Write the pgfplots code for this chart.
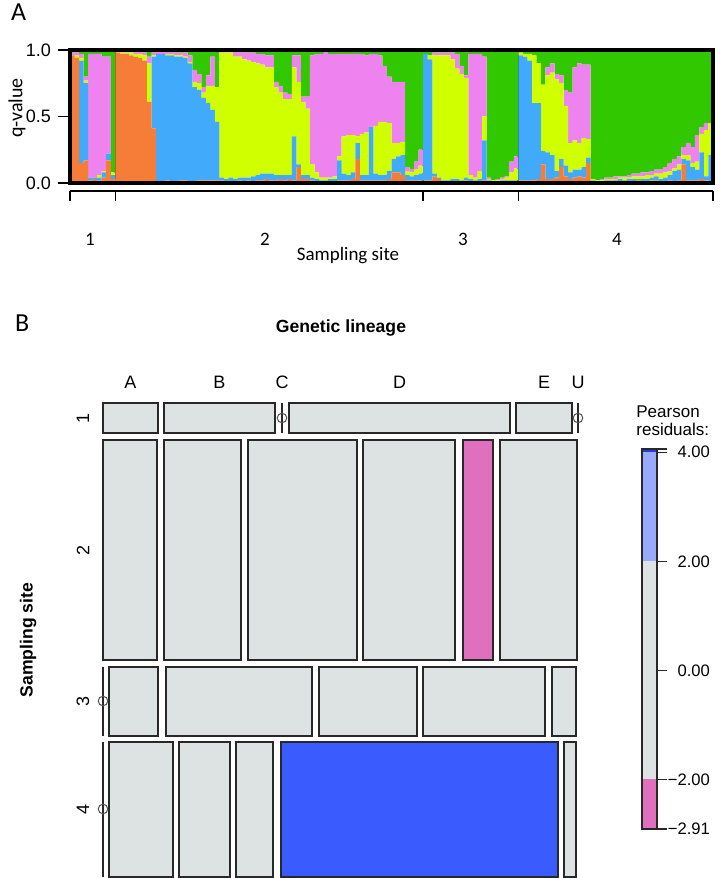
\documentclass[border=0pt]{standalone}
\usepackage{pgfplots}
\pgfplotsset{compat=1.18}
\usepackage{pgfplotstable}
\usepackage{fontspec}
\setmainfont{Liberation Sans}
\newfontfamily\calib{Carlito}

\definecolor{qO}{RGB}{245,125,55}
\definecolor{qB}{RGB}{66,170,250}
\definecolor{qY}{RGB}{208,255,0}
\definecolor{qP}{RGB}{238,130,238}
\definecolor{qG}{RGB}{50,200,0}
\definecolor{tgrey}{RGB}{221,227,227}
\definecolor{tedge}{RGB}{40,40,40}
\definecolor{rneg}{RGB}{224,112,190}
\definecolor{rpos}{RGB}{58,92,255}
\definecolor{rposl}{RGB}{152,170,250}
\definecolor{rposd}{RGB}{40,60,220}

% q-values per individual, clusters bottom to top: O B Y P G
\pgfplotstableread{
x O B Y P G
0.5 0.96 0.00 0.00 0.02 0.02
1.5 0.94 0.00 0.02 0.03 0.01
2.5 0.15 0.77 0.02 0.03 0.03
3.5 0.17 0.58 0.02 0.03 0.20
4.5 0.02 0.02 0.00 0.93 0.03
5.5 0.03 0.01 0.00 0.93 0.03
6.5 0.02 0.02 0.02 0.91 0.03
7.5 0.04 0.04 0.01 0.86 0.05
8.5 0.17 0.05 0.00 0.73 0.05
9.5 0.03 0.03 0.02 0.00 0.92
10.5 0.98 0.00 0.00 0.01 0.01
11.5 0.97 0.00 0.01 0.01 0.01
12.5 0.97 0.00 0.01 0.01 0.01
13.5 0.96 0.00 0.02 0.01 0.01
14.5 0.95 0.00 0.02 0.02 0.01
15.5 0.94 0.00 0.03 0.02 0.01
16.5 0.92 0.00 0.04 0.02 0.02
17.5 0.61 0.00 0.29 0.05 0.05
18.5 0.41 0.54 0.01 0.02 0.02
19.5 0.01 0.96 0.00 0.02 0.01
20.5 0.01 0.96 0.00 0.02 0.01
21.5 0.02 0.94 0.01 0.02 0.01
22.5 0.01 0.95 0.01 0.02 0.01
23.5 0.01 0.94 0.01 0.02 0.02
24.5 0.02 0.93 0.01 0.02 0.02
25.5 0.02 0.92 0.01 0.03 0.02
26.5 0.01 0.89 0.01 0.05 0.04
27.5 0.01 0.71 0.04 0.09 0.15
28.5 0.02 0.68 0.05 0.07 0.18
29.5 0.02 0.62 0.04 0.04 0.28
30.5 0.02 0.58 0.13 0.08 0.19
31.5 0.02 0.53 0.18 0.22 0.05
32.5 0.02 0.44 0.26 0.00 0.28
33.5 0.02 0.02 0.94 0.01 0.01
34.5 0.01 0.02 0.95 0.01 0.01
35.5 0.01 0.03 0.94 0.01 0.01
36.5 0.01 0.02 0.92 0.04 0.01
37.5 0.02 0.02 0.91 0.04 0.01
38.5 0.01 0.03 0.89 0.05 0.02
39.5 0.02 0.02 0.88 0.06 0.02
40.5 0.01 0.04 0.86 0.07 0.02
41.5 0.02 0.04 0.84 0.07 0.03
42.5 0.02 0.05 0.82 0.08 0.03
43.5 0.03 0.04 0.80 0.09 0.04
44.5 0.02 0.05 0.80 0.09 0.04
45.5 0.02 0.04 0.66 0.04 0.24
46.5 0.03 0.03 0.62 0.05 0.27
47.5 0.02 0.04 0.57 0.05 0.32
48.5 0.03 0.03 0.57 0.04 0.33
49.5 0.02 0.33 0.52 0.09 0.04
50.5 0.12 0.02 0.62 0.20 0.04
51.5 0.03 0.03 0.55 0.04 0.35
52.5 0.03 0.03 0.50 0.09 0.35
53.5 0.02 0.02 0.10 0.82 0.04
54.5 0.01 0.02 0.05 0.89 0.03
55.5 0.01 0.01 0.02 0.93 0.03
56.5 0.01 0.01 0.02 0.94 0.02
57.5 0.01 0.02 0.01 0.93 0.03
58.5 0.01 0.02 0.02 0.92 0.03
59.5 0.02 0.15 0.03 0.77 0.03
60.5 0.02 0.05 0.28 0.62 0.03
61.5 0.02 0.04 0.30 0.61 0.03
62.5 0.03 0.05 0.28 0.61 0.03
63.5 0.18 0.12 0.05 0.62 0.03
64.5 0.02 0.04 0.31 0.60 0.03
65.5 0.02 0.04 0.32 0.58 0.04
66.5 0.02 0.40 0.00 0.55 0.03
67.5 0.02 0.05 0.36 0.54 0.03
68.5 0.02 0.04 0.40 0.50 0.04
69.5 0.02 0.04 0.40 0.42 0.12
70.5 0.03 0.06 0.36 0.35 0.20
71.5 0.08 0.10 0.12 0.46 0.24
72.5 0.08 0.12 0.10 0.46 0.24
73.5 0.06 0.15 0.10 0.45 0.24
74.5 0.02 0.04 0.03 0.03 0.88
75.5 0.02 0.03 0.03 0.02 0.90
76.5 0.02 0.04 0.04 0.06 0.84
77.5 0.02 0.05 0.06 0.12 0.75
78.5 0.02 0.95 0.00 0.00 0.03
79.5 0.02 0.91 0.03 0.00 0.04
80.5 0.05 0.02 0.89 0.02 0.02
81.5 0.03 0.01 0.92 0.02 0.02
82.5 0.01 0.01 0.94 0.02 0.02
83.5 0.01 0.01 0.94 0.02 0.02
84.5 0.01 0.02 0.90 0.05 0.02
85.5 0.01 0.02 0.83 0.11 0.03
86.5 0.01 0.01 0.80 0.06 0.12
87.5 0.02 0.02 0.75 0.02 0.19
88.5 0.01 0.02 0.03 0.91 0.03
89.5 0.01 0.01 0.02 0.93 0.03
90.5 0.01 0.02 0.06 0.88 0.03
91.5 0.02 0.30 0.18 0.45 0.05
92.5 0.01 0.01 0.01 0.01 0.96
93.5 0.00 0.01 0.01 0.00 0.98
94.5 0.00 0.01 0.01 0.01 0.97
95.5 0.01 0.01 0.01 0.01 0.96
96.5 0.01 0.01 0.02 0.01 0.95
97.5 0.01 0.01 0.06 0.08 0.84
98.5 0.01 0.01 0.09 0.09 0.80
99.5 0.02 0.94 0.02 0.00 0.02
100.5 0.02 0.93 0.02 0.00 0.03
101.5 0.02 0.90 0.05 0.00 0.03
102.5 0.02 0.58 0.36 0.00 0.04
103.5 0.03 0.57 0.30 0.00 0.10
104.5 0.14 0.10 0.50 0.00 0.26
105.5 0.03 0.20 0.58 0.06 0.13
106.5 0.03 0.18 0.62 0.07 0.10
107.5 0.04 0.05 0.69 0.04 0.18
108.5 0.12 0.06 0.57 0.06 0.19
109.5 0.05 0.08 0.45 0.12 0.30
110.5 0.03 0.05 0.22 0.38 0.32
111.5 0.04 0.06 0.22 0.55 0.13
112.5 0.05 0.05 0.20 0.60 0.10
113.5 0.04 0.08 0.22 0.55 0.11
114.5 0.15 0.04 0.14 0.56 0.11
115.5 0.01 0.01 0.01 0.00 0.97
116.5 0.01 0.00 0.01 0.00 0.98
117.5 0.00 0.01 0.01 0.01 0.97
118.5 0.01 0.01 0.01 0.01 0.96
119.5 0.01 0.01 0.01 0.01 0.96
120.5 0.01 0.01 0.01 0.02 0.95
121.5 0.01 0.02 0.01 0.01 0.95
122.5 0.01 0.01 0.02 0.01 0.95
123.5 0.01 0.02 0.01 0.02 0.94
124.5 0.01 0.02 0.02 0.02 0.93
125.5 0.02 0.01 0.02 0.02 0.93
126.5 0.01 0.02 0.02 0.03 0.92
127.5 0.01 0.02 0.03 0.02 0.92
128.5 0.02 0.02 0.02 0.03 0.91
129.5 0.02 0.03 0.02 0.03 0.90
130.5 0.01 0.02 0.04 0.03 0.90
131.5 0.01 0.03 0.04 0.04 0.88
132.5 0.02 0.04 0.03 0.06 0.85
133.5 0.01 0.08 0.02 0.07 0.82
134.5 0.02 0.08 0.04 0.06 0.80
135.5 0.14 0.04 0.03 0.06 0.73
136.5 0.02 0.15 0.04 0.09 0.70
137.5 0.02 0.10 0.03 0.12 0.73
138.5 0.02 0.08 0.06 0.20 0.64
139.5 0.03 0.20 0.14 0.05 0.58
140.5 0.02 0.03 0.35 0.05 0.55
141.5 0.01 0.20 0.24 0.00 0.55
}\qtab

\begin{document}
\begin{tikzpicture}
\path[use as bounding box] (0,0) rectangle (360pt,439pt);

% ---- panel A: admixture bar plot
\begin{axis}[
    at={(35pt,347.5pt)}, anchor=south west,
    scale only axis, width=321.5pt, height=66.5pt,
    xmin=0, xmax=142, ymin=0, ymax=1,
    ybar stacked, bar width=1,
    axis on top, clip=false,
    axis line style={line width=2pt},
    xtick=\empty,
    ytick={0,0.5,1}, yticklabels={0.0,0.5,1.0},
    tick pos=left, tick align=outside,
    major tick length=6pt,
    ytick style={line width=0.6pt, black},
    yticklabel style={font=\fontsize{9}{10}\selectfont},
]
\addplot[fill=qO, draw=none] table[x=x,y=O]{\qtab};
\addplot[fill=qB, draw=none] table[x=x,y=B]{\qtab};
\addplot[fill=qY, draw=none] table[x=x,y=Y]{\qtab};
\addplot[fill=qP, draw=none] table[x=x,y=P]{\qtab};
\addplot[fill=qG, draw=none] table[x=x,y=G]{\qtab};
\draw[line width=1pt] (axis cs:10,0) -- (axis cs:10,1);
\draw[line width=1pt] (axis cs:78,0) -- (axis cs:78,1);
\draw[line width=1pt] (axis cs:99,0) -- (axis cs:99,1);
\end{axis}

% ---- overlay in pixel units for labels and panel B mosaic
\begin{axis}[
    at={(0pt,0pt)}, anchor=south west,
    scale only axis, width=360pt, height=439pt,
    xmin=0, xmax=720, ymin=0, ymax=878, y dir=reverse,
    hide axis, clip=false,
    tile/.style={fill=tgrey, draw=tedge, line width=0.65pt},
    zline/.style={draw=tedge, line width=0.65pt},
    zmark/.style={only marks, mark=o, mark size=2.4pt,
        mark options={draw=tedge!80, fill=white, line width=0.5pt}},
]
% panel A annotations
\node[anchor=west, font=\calib\fontsize{13}{15}\selectfont] at (axis cs:4,12) {A};
\node[rotate=90, font=\calib\fontsize{10}{12}\selectfont] at (axis cs:17,108) {q-value};
\draw[line width=0.8pt] (axis cs:70,191) -- (axis cs:713,191);
\draw[line width=0.8pt] (axis cs:70,191) -- (axis cs:70,201);
\draw[line width=0.8pt] (axis cs:115.3,191) -- (axis cs:115.3,201);
\draw[line width=0.8pt] (axis cs:423.2,191) -- (axis cs:423.2,201);
\draw[line width=0.8pt] (axis cs:518.3,191) -- (axis cs:518.3,201);
\draw[line width=0.8pt] (axis cs:713,191) -- (axis cs:713,201);
\node[font=\calib\fontsize{9.5}{11}\selectfont] at (axis cs:90,239) {1};
\node[font=\calib\fontsize{9.5}{11}\selectfont] at (axis cs:265,239) {2};
\node[font=\calib\fontsize{9.5}{11}\selectfont] at (axis cs:463,239) {3};
\node[font=\calib\fontsize{9.5}{11}\selectfont] at (axis cs:617,239) {4};
\node[font=\calib\fontsize{9.5}{11}\selectfont] at (axis cs:348,256) {Sampling site};

% panel B titles
\node[anchor=west, font=\calib\fontsize{13}{15}\selectfont] at (axis cs:8,323) {B};
\node[font=\bfseries\fontsize{8.8}{10}\selectfont] at (axis cs:341,328) {Genetic lineage};
\node[font=\fontsize{9}{10}\selectfont] at (axis cs:130.5,382) {A};
\node[font=\fontsize{9}{10}\selectfont] at (axis cs:219.5,382) {B};
\node[font=\fontsize{9}{10}\selectfont] at (axis cs:282,382) {C};
\node[font=\fontsize{9}{10}\selectfont] at (axis cs:399.5,382) {D};
\node[font=\fontsize{9}{10}\selectfont] at (axis cs:544,382) {E};
\node[font=\fontsize{9}{10}\selectfont] at (axis cs:578,382) {U};
\node[rotate=90, font=\fontsize{9}{10}\selectfont] at (axis cs:83,418) {1};
\node[rotate=90, font=\fontsize{9}{10}\selectfont] at (axis cs:83,550) {2};
\node[rotate=90, font=\fontsize{9}{10}\selectfont] at (axis cs:83,701) {3};
\node[rotate=90, font=\fontsize{9}{10}\selectfont] at (axis cs:83,809.5) {4};
\node[rotate=90, font=\bfseries\fontsize{8.8}{10}\selectfont] at (axis cs:28,640) {Sampling site};
\node[anchor=north west, align=left, inner sep=0pt,
      font=\fontsize{8.5}{9}\selectfont] at (axis cs:636,405) {Pearson\\residuals:};

% row 1
\addplot[tile] coordinates {(103,403) (158,403) (158,433) (103,433)} -- cycle;
\addplot[tile] coordinates {(164,403) (275,403) (275,433) (164,433)} -- cycle;
\addplot[zline] coordinates {(282,403) (282,433)};
\addplot[zmark] coordinates {(282,418)};
\addplot[tile] coordinates {(289,403) (510,403) (510,433) (289,433)} -- cycle;
\addplot[tile] coordinates {(516,403) (572,403) (572,433) (516,433)} -- cycle;
\addplot[zline] coordinates {(578,403) (578,433)};
\addplot[zmark] coordinates {(578,418)};
% row 2
\addplot[tile] coordinates {(103,440) (157,440) (157,660) (103,660)} -- cycle;
\addplot[tile] coordinates {(164,440) (241,440) (241,660) (164,660)} -- cycle;
\addplot[tile] coordinates {(248,440) (357,440) (357,660) (248,660)} -- cycle;
\addplot[tile] coordinates {(363,440) (455,440) (455,660) (363,660)} -- cycle;
\addplot[tile, fill=rneg] coordinates {(463,440) (493,440) (493,660) (463,660)} -- cycle;
\addplot[tile] coordinates {(500,440) (577,440) (577,660) (500,660)} -- cycle;
% row 3
\addplot[zline] coordinates {(103,667) (103,736)};
\addplot[zmark] coordinates {(103,701)};
\addplot[tile] coordinates {(109,667) (158,667) (158,736) (109,736)} -- cycle;
\addplot[tile] coordinates {(166,667) (312,667) (312,736) (166,736)} -- cycle;
\addplot[tile] coordinates {(319,667) (417,667) (417,736) (319,736)} -- cycle;
\addplot[tile] coordinates {(423,667) (545,667) (545,736) (423,736)} -- cycle;
\addplot[tile] coordinates {(552,667) (576,667) (576,736) (552,736)} -- cycle;
% row 4
\addplot[zline] coordinates {(103,742) (103,877)};
\addplot[zmark] coordinates {(103,809)};
\addplot[tile] coordinates {(109,742) (173,742) (173,877) (109,877)} -- cycle;
\addplot[tile] coordinates {(179,742) (230,742) (230,877) (179,877)} -- cycle;
\addplot[tile] coordinates {(236,742) (273,742) (273,877) (236,877)} -- cycle;
\addplot[tile, fill=rpos] coordinates {(281,742) (558,742) (558,877) (281,877)} -- cycle;
\addplot[tile] coordinates {(564,742) (576,742) (576,877) (564,877)} -- cycle;
\end{axis}

% ---- residual legend
\begin{axis}[
    at={(321pt,24.5pt)}, anchor=south west,
    scale only axis, width=7.5pt, height=190pt,
    xmin=0, xmax=1, ymin=-2.91, ymax=4.06,
    axis on top,
    axis line style={line width=0.6pt, tedge},
    xtick=\empty,
    ytick={-2.91,-2,0,2,4,4.06},
    yticklabels={−2.91,−2.00,0.00,2.00,4.00,{}},
    tick pos=right, tick align=outside,
    major tick length=5pt,
    ytick style={line width=0.6pt, tedge},
    yticklabel style={font=\fontsize{8.3}{10}\selectfont, anchor=east, xshift=25pt},
]
\addplot[fill=rneg, draw=none] coordinates {(0,-2.91) (1,-2.91) (1,-2) (0,-2)} -- cycle;
\addplot[fill=tgrey, draw=none] coordinates {(0,-2) (1,-2) (1,2) (0,2)} -- cycle;
\addplot[fill=rposl, draw=none] coordinates {(0,2) (1,2) (1,4) (0,4)} -- cycle;
\addplot[fill=rposd, draw=none] coordinates {(0,4) (1,4) (1,4.06) (0,4.06)} -- cycle;
\end{axis}
\end{tikzpicture}
\end{document}
